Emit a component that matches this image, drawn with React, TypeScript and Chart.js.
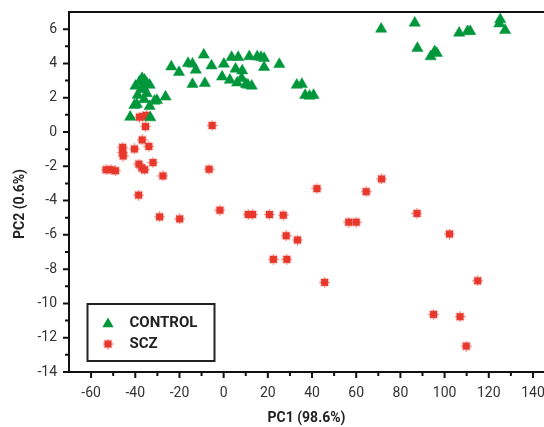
import React, { useEffect, useRef } from "react";
import { Chart, registerables } from "chart.js";

Chart.register(...registerables);

// ---- Data (PC1, PC2) ----
const controlX = [
  -36.9, -38.1, -39.9, -34.8, -33.5, -36.3, -38.9, -34.8, -40.4, -39.3, -33.5, -31.3, -30.2, -26.3, -42.3, -33.2, -37.3, -35.8, -36.0,
  -23.7, -20.2, -16.1, -14.1, -12.6, -9.0, -5.5, -14.1, -8.5, 0.1, 3.6, 6.6, 11.6, 15.2, 16.9, 18.3, 18.3, 25.2, 5.4, 8.4, -0.7, 2.8, 8.1, 6.1, 10.1, 12.7, 11.0, 33.1, 35.4, 36.9, 38.9, 40.7,
  71.3, 86.5, 87.7, 93.7, 95.5, 96.5, 106.6, 110.4, 111.6, 125.2, 124.8, 127.4,
];
const controlY = [
  3.13, 2.93, 2.68, 2.84, 2.74, 2.6, 2.15, 2.25, 1.56, 1.62, 1.5, 1.81, 1.85, 2.05, 0.87, 0.84, 2.48, 3.03, 1.9,
  3.81, 3.48, 4.01, 3.97, 3.62, 4.5, 3.87, 2.79, 2.84, 3.97, 4.36, 4.36, 4.4, 4.4, 4.36, 4.3, 3.78, 3.95, 3.68, 3.58, 3.22, 3.03, 3.13, 2.87, 2.79, 2.69, 2.74, 2.74, 2.79, 2.15, 2.1, 2.15,
  6.01, 6.36, 4.89, 4.4, 4.69, 4.6, 5.78, 5.87, 5.87, 6.56, 6.32, 5.93,
];
const sczX = [
  -38.1, -35.0, -36.5, -35.4, -5.2, -45.7, -45.7, -45.5, -40.4, -36.9, -33.9, -51.0, -53.2, -49.0, -38.4, -35.8, -37.0, -32.0, -27.5, -6.6, -38.5,
  -29.0, -19.9, -1.7, 11.1, 13.1, 20.7, 27.0, 28.3, 33.4, 22.5, 28.6, 42.2, 45.7, 56.6, 60.0, 64.5, 71.5, 87.5, 102.2, 115.0, 95.0, 107.0, 109.8,
];
const sczY = [
  0.87, 0.97, 0.9, 0.32, 0.38, -0.89, -1.19, -1.4, -0.99, -0.46, -0.84, -2.2, -2.2, -2.26, -1.87, -2.2, -2.1, -1.78, -2.56, -2.17, -3.68,
  -4.95, -5.07, -4.56, -4.81, -4.81, -4.81, -4.85, -6.05, -6.3, -7.43, -7.43, -3.3, -8.77, -5.26, -5.26, -3.48, -2.74, -4.75, -5.95, -8.68, -10.64, -10.77, -12.49,
];

const seriesNames = ["CONTROL", "SCZ"];
const xTitle = "PC1 (98.6%)";
const yTitle = "PC2 (0.6%)";
const xMin = -70;
const xMax = 145;
const yMin = -14;
const yMax = 7;

const GREEN = "#00963c";
const RED = "#e8382c";
const FONT = "Roboto, 'DejaVu Sans', sans-serif";

function makeStar(size: number, color: string): HTMLCanvasElement {
  const c = document.createElement("canvas");
  c.width = size;
  c.height = size;
  const g = c.getContext("2d")!;
  const m = size / 2;
  const r = size / 2 - 0.3;
  g.fillStyle = color;
  g.strokeStyle = color;
  g.globalAlpha = 0.65;
  g.lineWidth = 1.3;
  g.beginPath();
  for (let k = 0; k < 4; k++) {
    const a = (k * Math.PI) / 4;
    g.moveTo(m + Math.cos(a) * r, m + Math.sin(a) * r);
    g.lineTo(m - Math.cos(a) * r, m - Math.sin(a) * r);
  }
  g.stroke();
  g.globalAlpha = 1;
  g.fillRect(m - 3.6, m - 3.6, 7.2, 7.2);
  return c;
}

function drawTriangle(ctx: CanvasRenderingContext2D, x: number, y: number, r: number, color: string) {
  ctx.beginPath();
  ctx.moveTo(x, y - r);
  ctx.lineTo(x + r * Math.sin(Math.PI / 3), y + r * 0.5);
  ctx.lineTo(x - r * Math.sin(Math.PI / 3), y + r * 0.5);
  ctx.closePath();
  ctx.fillStyle = color;
  ctx.fill();
}

export default function App() {
  const ref = useRef<HTMLCanvasElement>(null);

  useEffect(() => {
    if (!ref.current) return;
    const star = makeStar(11, RED);

    const decor = {
      id: "decor",
      afterDraw(chart: any) {
        const ctx = chart.ctx as CanvasRenderingContext2D;
        const { left, top, bottom } = chart.chartArea;
        const xs = chart.scales.x;
        const ys = chart.scales.y;
        ctx.save();
        ctx.strokeStyle = "#111";
        ctx.lineWidth = 2;
        // top frame line
        ctx.beginPath();
        ctx.moveTo(left, top);
        ctx.lineTo(chart.width, top);
        ctx.stroke();
        // x ticks
        ctx.beginPath();
        for (let v = -60; v <= 140; v += 10) {
          const p = xs.getPixelForValue(v);
          const len = v % 20 === 0 ? 6 : 4;
          ctx.moveTo(p, bottom);
          ctx.lineTo(p, bottom + len);
        }
        // y ticks
        for (let v = yMin; v <= 6; v += 1) {
          const p = ys.getPixelForValue(v);
          const len = v % 2 === 0 ? 6 : 4;
          ctx.moveTo(left, p);
          ctx.lineTo(left - len, p);
        }
        ctx.stroke();

        // y title
        ctx.save();
        ctx.translate(20, (top + bottom) / 2 + 12);
        ctx.rotate(-Math.PI / 2);
        ctx.fillStyle = "#222";
        ctx.font = `bold 14px ${FONT}`;
        ctx.textAlign = "center";
        ctx.textBaseline = "middle";
        ctx.fillText(yTitle, 0, 0);
        ctx.restore();

        // legend
        const bx = left + 18.5;
        const by = bottom - 68;
        const bw = 127;
        const bh = 57;
        ctx.fillStyle = "#fff";
        ctx.fillRect(bx, by, bw, bh);
        ctx.lineWidth = 2;
        ctx.strokeStyle = "#222";
        ctx.strokeRect(bx, by, bw, bh);
        const row1 = by + 19;
        const row2 = by + 40;
        drawTriangle(ctx, bx + 20.5, row1 + 1, 6.5, GREEN);
        ctx.drawImage(star, bx + 20.5 - 5.5, row2 - 5.5);
        ctx.fillStyle = "#222";
        ctx.font = `bold 15px ${FONT}`;
        ctx.textBaseline = "middle";
        ctx.textAlign = "left";
        ctx.fillText(seriesNames[0], bx + 42, row1);
        ctx.fillText(seriesNames[1], bx + 42, row2);
        ctx.restore();
      },
    };

    const chart = new Chart(ref.current, {
      type: "scatter",
      data: {
        datasets: [
          {
            label: seriesNames[0],
            data: controlX.map((x, i) => ({ x, y: controlY[i] })),
            pointStyle: "triangle",
            pointRadius: 6.5,
            backgroundColor: GREEN,
            borderColor: GREEN,
            borderWidth: 0.5,
          },
          {
            label: seriesNames[1],
            data: sczX.map((x, i) => ({ x, y: sczY[i] })),
            pointStyle: star as any,
            pointRadius: 5.5,
            backgroundColor: RED,
            borderColor: RED,
          },
        ],
      },
      options: {
        animation: false,
        responsive: false,
        events: [],
        layout: { autoPadding: false, padding: { top: 12, left: 0, right: 0, bottom: 0 } },
        plugins: { legend: { display: false }, tooltip: { enabled: false } },
        scales: {
          x: {
            type: "linear",
            min: xMin,
            max: xMax,
            grid: { display: false },
            border: { display: true, color: "#111", width: 2 },
            ticks: {
              stepSize: 10,
              includeBounds: false,
              autoSkip: false,
              maxRotation: 0,
              padding: 5,
              color: "#333",
              font: { family: FONT, size: 14 },
              callback: (v: any) => (Number(v) % 20 === 0 ? String(v) : ""),
            },
            title: {
              display: true,
              text: xTitle,
              color: "#222",
              font: { family: FONT, size: 14, weight: "bold" },
              padding: { top: 0, bottom: 0 },
            },
            afterFit: (s: any) => {
              s.height = 55;
              s.paddingLeft = 0;
              s.paddingRight = 0;
            },
          },
          y: {
            type: "linear",
            min: yMin,
            max: yMax,
            grid: { display: false },
            border: { display: true, color: "#111", width: 2 },
            ticks: {
              stepSize: 1,
              includeBounds: false,
              autoSkip: false,
              padding: 4,
              color: "#333",
              font: { family: FONT, size: 14 },
              callback: (v: any) => (Number(v) % 2 === 0 && Number(v) <= 6 ? String(v) : ""),
            },
            title: { display: false, text: yTitle },
            afterFit: (s: any) => {
              s.width = 69;
              s.paddingTop = 0;
              s.paddingBottom = 0;
            },
          },
        },
      },
      plugins: [decor],
    });
    return () => chart.destroy();
  }, []);

  return (
    <div style={{ position: "absolute", left: 0, top: 0, width: 544, height: 427, background: "#fff" }}>
      <canvas ref={ref} width={544} height={427} style={{ display: "block" }} />
    </div>
  );
}
